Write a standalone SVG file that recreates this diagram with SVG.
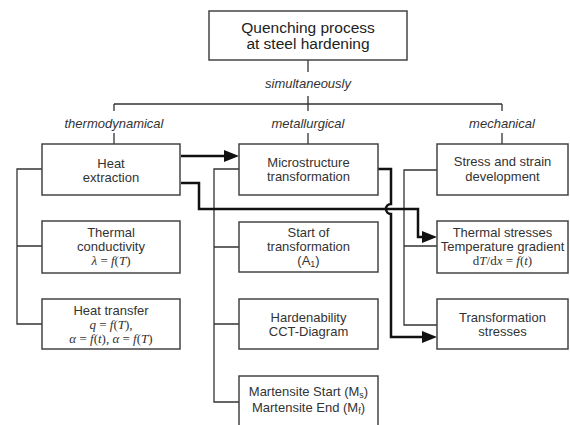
<svg xmlns="http://www.w3.org/2000/svg" width="570" height="425" viewBox="0 0 570 425">
<style>
.box{fill:#fff;stroke:#444;stroke-width:1.5}
.t{font-family:"Liberation Sans",Arial,sans-serif;font-size:13px;fill:#333;text-anchor:middle}
.title{font-size:15.5px;fill:#222}
.lbl{font-style:italic}
.m{font-family:"Liberation Serif","Times New Roman",serif;font-size:13px}
.i{font-style:italic}
.thin{fill:none;stroke:#333;stroke-width:1.3}
.thick{fill:none;stroke:#111;stroke-width:2.5}
</style>
<defs>
<marker id="ah" markerUnits="userSpaceOnUse" markerWidth="15" markerHeight="12" refX="5" refY="6" orient="auto">
<path d="M0,0 L15,6 L0,12 z" fill="#111"/>
</marker>
</defs>
<rect width="570" height="425" fill="#fff"/>
<g id="connectors">
<path class="thin" d="M308,60 V72 M308,96 V104 M114,104 H502 M114,104 V111 M114,133 V144 M308,104 V111 M308,133 V144 M502,104 V111 M502,133 V144"/>
<path class="thin" d="M42,169 H17 V324 H42 M17,246 H42"/>
<path class="thin" d="M239,169 H214 V402 H239 M214,247 H239 M214,324 H239"/>
<path class="thin" d="M437,170 H404 V325 H437 M404,246 H437"/>
<path class="thick" d="M181,156 H229" marker-end="url(#ah)"/>
<path class="thick" d="M181,183 H199 V209 H418 V237 H427" marker-end="url(#ah)"/>
<path class="thick" d="M378,169 H391 V204 A5,5 0 0 0 391,214 V337 H427" marker-end="url(#ah)"/>
</g>
<g id="title">
<rect class="box" x="209" y="11" width="198" height="49"/>
<text class="t title" x="308" y="33">Quenching process</text>
<text class="t title" x="308" y="49">at steel hardening</text>
</g>
<g id="labels">
<text class="t lbl" x="308" y="88">simultaneously</text>
<text class="t lbl" x="114" y="128">thermodynamical</text>
<text class="t lbl" x="308" y="128">metallurgical</text>
<text class="t lbl" x="502" y="128">mechanical</text>
</g>
<g id="heat-extraction">
<rect class="box" x="42" y="144" width="138" height="51"/>
<text class="t" x="111" y="168">Heat</text>
<text class="t" x="111" y="182">extraction</text>
</g>
<g id="thermal-conductivity">
<rect class="box" x="42" y="221" width="138" height="52"/>
<text class="t" x="111" y="237">Thermal</text>
<text class="t" x="111" y="251">conductivity</text>
<text class="t m" x="111" y="265"><tspan class="i">λ</tspan> = <tspan class="i">f</tspan>(<tspan class="i">T</tspan>)</text>
</g>
<g id="heat-transfer">
<rect class="box" x="42" y="299" width="138" height="50"/>
<text class="t" x="111" y="315">Heat transfer</text>
<text class="t m" x="111" y="329"><tspan class="i">q</tspan> = <tspan class="i">f</tspan>(<tspan class="i">T</tspan>),</text>
<text class="t m" x="111" y="343"><tspan class="i">α</tspan> = <tspan class="i">f</tspan>(<tspan class="i">t</tspan>), <tspan class="i">α</tspan> = <tspan class="i">f</tspan>(<tspan class="i">T</tspan>)</text>
</g>
<g id="microstructure">
<rect class="box" x="239" y="144" width="139" height="51"/>
<text class="t" x="308.5" y="167">Microstructure</text>
<text class="t" x="308.5" y="181">transformation</text>
</g>
<g id="start-transformation">
<rect class="box" x="239" y="222" width="139" height="50"/>
<text class="t" x="308.5" y="237">Start of</text>
<text class="t" x="308.5" y="251">transformation</text>
<text class="t" x="308.5" y="265">(A<tspan font-size="9" dy="2">1</tspan><tspan dy="-2">)</tspan></text>
</g>
<g id="hardenability">
<rect class="box" x="239" y="299" width="139" height="50"/>
<text class="t" x="308.5" y="322">Hardenability</text>
<text class="t" x="308.5" y="336">CCT-Diagram</text>
</g>
<g id="martensite">
<rect class="box" x="239" y="376" width="139" height="60"/>
<text class="t" x="308.5" y="396">Martensite Start (M<tspan font-size="9" dy="2">s</tspan><tspan dy="-2">)</tspan></text>
<text class="t" x="308.5" y="412">Martensite End (M<tspan font-size="9" dy="2">f</tspan><tspan dy="-2">)</tspan></text>
</g>
<g id="stress-strain">
<rect class="box" x="437" y="144" width="131" height="51"/>
<text class="t" x="502.5" y="166">Stress and strain</text>
<text class="t" x="502.5" y="181">development</text>
</g>
<g id="thermal-stresses">
<rect class="box" x="437" y="221" width="131" height="52"/>
<text class="t" x="502.5" y="237">Thermal stresses</text>
<text class="t" x="502.5" y="251">Temperature gradient</text>
<text class="t m" x="502.5" y="265">d<tspan class="i">T</tspan>/d<tspan class="i">x</tspan> = <tspan class="i">f</tspan>(<tspan class="i">t</tspan>)</text>
</g>
<g id="transformation-stresses">
<rect class="box" x="437" y="299" width="131" height="50"/>
<text class="t" x="502.5" y="322">Transformation</text>
<text class="t" x="502.5" y="336">stresses</text>
</g>
</svg>
